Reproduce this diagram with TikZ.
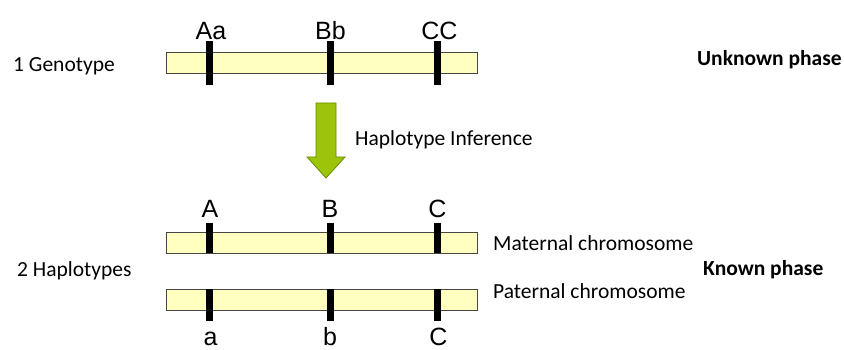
\documentclass[tikz,border=0pt]{standalone}
\usepackage{fontspec}
\setmainfont{Carlito}
\newfontfamily\arialf{Liberation Sans}
\definecolor{barfill}{RGB}{255,255,192}
\definecolor{barline}{RGB}{70,70,70}
\definecolor{arrowfill}{RGB}{155,196,10}
\definecolor{arrowline}{RGB}{105,140,0}
\begin{document}
\begin{tikzpicture}[x=1pt,y=-1pt,
  chrom/.style={draw=barline,line width=0.9pt,fill=barfill,minimum width=311pt,minimum height=21pt,inner sep=0pt},
  locus/.style={fill=black,draw=none,minimum width=7pt,inner sep=0pt},
  allele/.style={font=\arialf\fontsize{25}{29}\selectfont,anchor=base,inner sep=0pt},
  lbl/.style={font=\fontsize{21.5}{25}\selectfont,anchor=base west,inner sep=0pt},
  blbl/.style={font=\bfseries\fontsize{21.5}{25}\selectfont,anchor=base west,inner sep=0pt}]
\useasboundingbox[fill=white] (0,0) rectangle (844,350);

% genotype bar
\node[chrom] (g) at (321.5,62.5) {};
\node[locus,minimum height=44pt] (g1) at (209.5,63) {};
\node[locus,minimum height=44pt] (g2) at (330,63) {};
\node[locus,minimum height=44pt] (g3) at (437.5,63) {};
\node[allele] (ga) at (211,40) {Aa};
\node[allele] (gb) at (330.5,40) {Bb};
\node[allele] (gc) at (439.5,40) {CC};

% haplotype bars
\node[chrom] (m) at (321.5,242.5) {};
\node[locus,minimum height=30pt] (m1) at (209.5,238) {};
\node[locus,minimum height=30pt] (m2) at (330,238) {};
\node[locus,minimum height=30pt] (m3) at (437.5,238) {};
\node[allele] (ma) at (210,218) {A};
\node[allele] (mb) at (330,218) {B};
\node[allele] (mc) at (437.5,218) {C};

\node[chrom] (p) at (321.5,299.5) {};
\node[locus,minimum height=32pt] (p1) at (209.5,305) {};
\node[locus,minimum height=32pt] (p2) at (330,305) {};
\node[locus,minimum height=32pt] (p3) at (437.5,305) {};
\node[allele] (pa) at (210.5,345) {a};
\node[allele] (pb) at (330,345) {b};
\node[allele] (pc) at (438.5,345) {C};

% arrow
\draw[arrowline,line width=0.8pt,fill=arrowfill,line join=miter]
  (316,103) -- (336,103) -- (336,157) -- (345,157) -- (326,178) -- (307,157) -- (316,157) -- cycle;

% labels
\node[lbl] (t1) at (13,71.5) {1 Genotype};
\node[lbl] (t2) at (17,276) {2 Haplotypes};
\node[lbl] (hi) at (355,146) {Haplotype Inference};
\node[lbl] (mat) at (493,251) {Maternal chromosome};
\node[lbl] (pat) at (493,298) {Paternal chromosome};
\node[blbl] (up) at (697,66) {Unknown phase};
\node[blbl] (kp) at (703,275) {Known phase};
\end{tikzpicture}
\end{document}
